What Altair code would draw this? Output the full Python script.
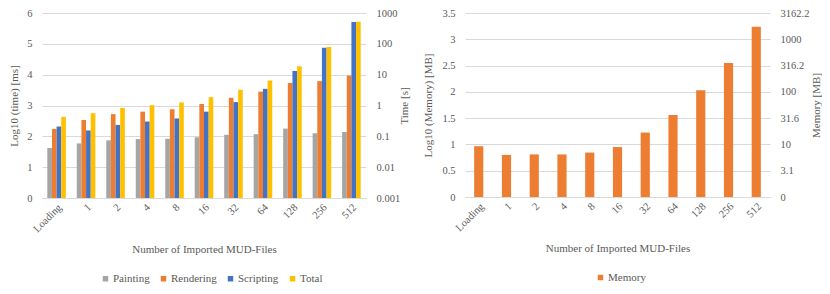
import altair as alt
import pandas as pd

categories = ["Loading", "1", "2", "4", "8", "16", "32", "64", "128", "256", "512"]
series_names = ["Painting", "Rendering", "Scripting", "Total"]
series_colors = ["#A5A5A5", "#ED7D31", "#4472C4", "#FFC000"]

painting = [1.62, 1.77, 1.87, 1.91, 1.92, 1.97, 2.05, 2.07, 2.25, 2.10, 2.14]
rendering = [2.24, 2.53, 2.72, 2.80, 2.88, 3.05, 3.25, 3.45, 3.73, 3.79, 3.97]
scripting = [2.32, 2.19, 2.37, 2.48, 2.58, 2.80, 3.11, 3.54, 4.12, 4.87, 5.71]
total = [2.63, 2.75, 2.92, 3.01, 3.10, 3.27, 3.51, 3.81, 4.27, 4.90, 5.72]

memory = [0.966, 0.80, 0.81, 0.81, 0.845, 0.95, 1.226, 1.56, 2.03, 2.55, 3.24]

time_ticks = [0, 1, 2, 3, 4, 5, 6]
time_right_labels = ["0.001", "0.01", "0.1", "1", "10", "100", "1000"]
mem_ticks = [0, 0.5, 1, 1.5, 2, 2.5, 3, 3.5]
mem_left_labels = ["0", "0.5", "1", "1.5", "2", "2.5", "3", "3.5"]
mem_right_labels = ["0", "3.1", "10", "31.6", "100", "316.2", "1000", "3162.2"]

rows = []
for i, c in enumerate(categories):
    for name, vals in zip(series_names, [painting, rendering, scripting, total]):
        rows.append({"cat": c, "series": name, "value": vals[i]})
df = pd.DataFrame(rows)
dfm = pd.DataFrame({"cat": categories, "value": memory, "series": ["Memory"] * len(categories)})

FONT = "Liberation Serif, DejaVu Serif, serif"
GRAY = "#595959"
GRID = "#D9D9D9"

def arr_expr(labels, mult):
    lst = ",".join("'" + s + "'" for s in labels)
    return "[" + lst + "][round(datum.value*" + str(mult) + ")]"

x_title = "Number of Imported MUD-Files"

x_left = alt.X("cat:N", sort=categories, title=x_title,
               scale=alt.Scale(paddingInner=0.37, paddingOuter=0.18),
               axis=alt.Axis(labelAngle=-45, labelPadding=4, titlePadding=9))
xoff = alt.XOffset("series:N", sort=series_names, scale=alt.Scale(paddingInner=0, paddingOuter=0))

bars = alt.Chart(df).mark_bar().encode(
    x=x_left,
    xOffset=xoff,
    y=alt.Y("value:Q", scale=alt.Scale(domain=[0, 6]), title="Log10 (time) [ms]",
            axis=alt.Axis(values=time_ticks, grid=True, labelPadding=10, titlePadding=7)),
    color=alt.Color("series:N", sort=series_names,
                    scale=alt.Scale(domain=series_names, range=series_colors),
                    legend=alt.Legend(orient="none", legendX=58, legendY=260, direction="horizontal",
                                      title=None, symbolType="square", symbolSize=30,
                                      labelFontSize=11, labelFont=FONT, labelColor=GRAY,
                                      labelOffset=2, columnPadding=8, symbolStrokeWidth=0)),
)
sec = alt.Chart(df).mark_bar(opacity=0).encode(
    x=x_left,
    xOffset=xoff,
    y=alt.Y("value:Q", scale=alt.Scale(domain=[0, 6]), title="Time [s]",
            axis=alt.Axis(orient="right", values=time_ticks, grid=False, labelPadding=10,
                          titlePadding=10, titleAngle=270,
                          labelExpr=arr_expr(time_right_labels, 1))),
)
left = alt.layer(bars, sec).resolve_scale(y="independent").properties(width=324, height=185)

x_right = alt.X("cat:N", sort=categories, title=x_title,
                scale=alt.Scale(paddingInner=0.67, paddingOuter=0.33),
                axis=alt.Axis(labelAngle=-45, labelPadding=4, titlePadding=9))

mbars = alt.Chart(dfm).mark_bar().encode(
    x=x_right,
    y=alt.Y("value:Q", scale=alt.Scale(domain=[0, 3.5]), title="Log10 (Memory) [MB]",
            axis=alt.Axis(values=mem_ticks, grid=True, labelPadding=10, titlePadding=8,
                          labelExpr=arr_expr(mem_left_labels, 2))),
    color=alt.Color("series:N", scale=alt.Scale(domain=["Memory"], range=["#ED7D31"]),
                    legend=alt.Legend(orient="none", legendX=130, legendY=259, direction="horizontal",
                                      title=None, symbolType="square", symbolSize=30,
                                      labelFontSize=11, labelFont=FONT, labelColor=GRAY,
                                      labelOffset=2, symbolStrokeWidth=0)),
)
msec = alt.Chart(dfm).mark_bar(opacity=0).encode(
    x=x_right,
    y=alt.Y("value:Q", scale=alt.Scale(domain=[0, 3.5]), title="Memory [MB]",
            axis=alt.Axis(orient="right", values=mem_ticks, grid=False, labelPadding=10,
                          titlePadding=13, titleAngle=270,
                          labelExpr=arr_expr(mem_right_labels, 2))),
)
right = alt.layer(mbars, msec).resolve_scale(y="independent").properties(width=305, height=184)

chart = alt.hconcat(left, right, spacing=12).resolve_scale(color="independent").properties(
    padding={"left": 0, "top": 0, "right": 0, "bottom": 0}
).configure(
    font=FONT,
).configure_axis(
    labelFont=FONT, titleFont=FONT, labelColor=GRAY, titleColor=GRAY,
    labelFontSize=10.5, titleFontSize=11, titleFontWeight="normal",
    domain=False, ticks=False, gridColor=GRID, gridWidth=1,
).configure_axisX(
    domain=True, domainColor=GRID, grid=False,
).configure_legend(
    labelFont=FONT,
).configure_view(stroke=None)

chart.save("out.html", embed_options={"renderer": "svg", "actions": False})
